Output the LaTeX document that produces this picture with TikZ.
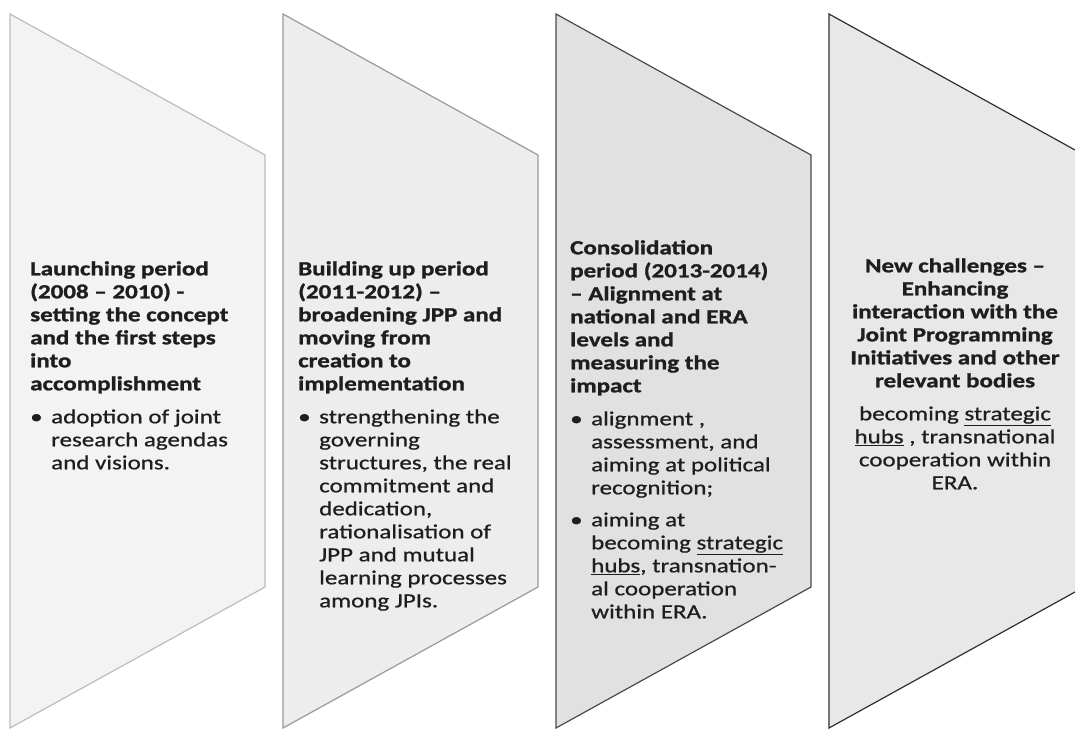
\documentclass[tikz,border=0pt]{standalone}
\usepackage{fontspec}
\setmainfont{Carlito}[FakeStretch=1.25, BoldFeatures={FakeBold=1.2}, UprightFeatures={FakeBold=0.7}]
\definecolor{fillA}{HTML}{F3F3F3}
\definecolor{fillB}{HTML}{EDEDED}
\definecolor{fillC}{HTML}{E1E1E1}
\definecolor{fillD}{HTML}{E8E8E8}
\definecolor{edgeA}{HTML}{BDBDBD}
\definecolor{edgeB}{HTML}{9A9A9A}
\definecolor{edgeC}{HTML}{4A4A4A}
\definecolor{edgeD}{HTML}{303030}
\definecolor{ink}{HTML}{1E1E1E}
\newcommand{\bul}{\makebox[21pt][l]{\textbullet}}
\newcommand{\ind}{\hspace*{21pt}}
\tikzset{
  panel/.style={line width=1.2pt, line join=miter},
  txt/.style={anchor=north west, inner sep=0pt, align=left, text=ink,
    font=\fontsize{20}{23}\selectfont},
  ctxt/.style={anchor=north, inner sep=0pt, align=center, text=ink,
    font=\fontsize{20}{23}\selectfont}
}
\begin{document}
\begin{tikzpicture}[x=1pt,y=-1pt]
\useasboundingbox (0,0) rectangle (1075,730);
\fill[white] (0,0) rectangle (1075,730);
% panels
\filldraw[panel, fill=fillA, draw=edgeA] (10,14) -- (265,155) -- (265,587) -- (10,728) -- cycle;
\filldraw[panel, fill=fillB, draw=edgeB] (283,14) -- (538,155) -- (538,587) -- (283,728) -- cycle;
\filldraw[panel, fill=fillC, draw=edgeC] (556,14) -- (811,155) -- (811,587) -- (556,728) -- cycle;
\fill[fillD] (829,14) -- (1075,150) -- (1075,592) -- (829,728) -- cycle;
\draw[panel, draw=edgeD] (1075,150) -- (829,14) -- (829,728) -- (1075,592);
% texts
\node[txt] (t1) at (30,259) {\strut\bfseries Launching period\\\bfseries (2008 -- 2010) -\\\bfseries setting the concept\\\bfseries and the first steps\\\bfseries into\\\bfseries accomplishment\\[10pt]
\bul adoption of joint\\\ind research agendas\\\ind and visions.};
\node[txt] (t2) at (298,259) {\strut\bfseries Building up period\\\bfseries (2011-2012) --\\\bfseries broadening JPP and\\\bfseries moving from\\\bfseries creation to\\\bfseries implementation\\[10pt]
\bul strengthening the\\\ind governing\\\ind structures, the real\\\ind commitment and\\\ind dedication,\\\ind rationalisation of\\\ind JPP and mutual\\\ind learning processes\\\ind among JPIs.};
\node[txt] (t3) at (570,238) {\strut\bfseries Consolidation\\\bfseries period (2013-2014)\\\bfseries -- Alignment at\\\bfseries national and ERA\\\bfseries levels and\\\bfseries measuring the\\\bfseries impact\\[10pt]
\bul alignment ,\\\ind assessment, and\\\ind aiming at political\\\ind recognition;\\[9pt]
\bul aiming at\\\ind becoming \underline{strategic}\\\ind \underline{hubs}, transnation-\\\ind al cooperation\\\ind within ERA.};
\node[ctxt] (t4) at (955,256) {\strut\bfseries New challenges --\\\bfseries Enhancing\\\bfseries interaction with the\\\bfseries Joint Programming\\\bfseries Initiatives and other\\\bfseries relevant bodies\\[10pt]
becoming \underline{strategic}\\\underline{hubs} , transnational\\cooperation within\\ERA.};
\end{tikzpicture}
\end{document}
